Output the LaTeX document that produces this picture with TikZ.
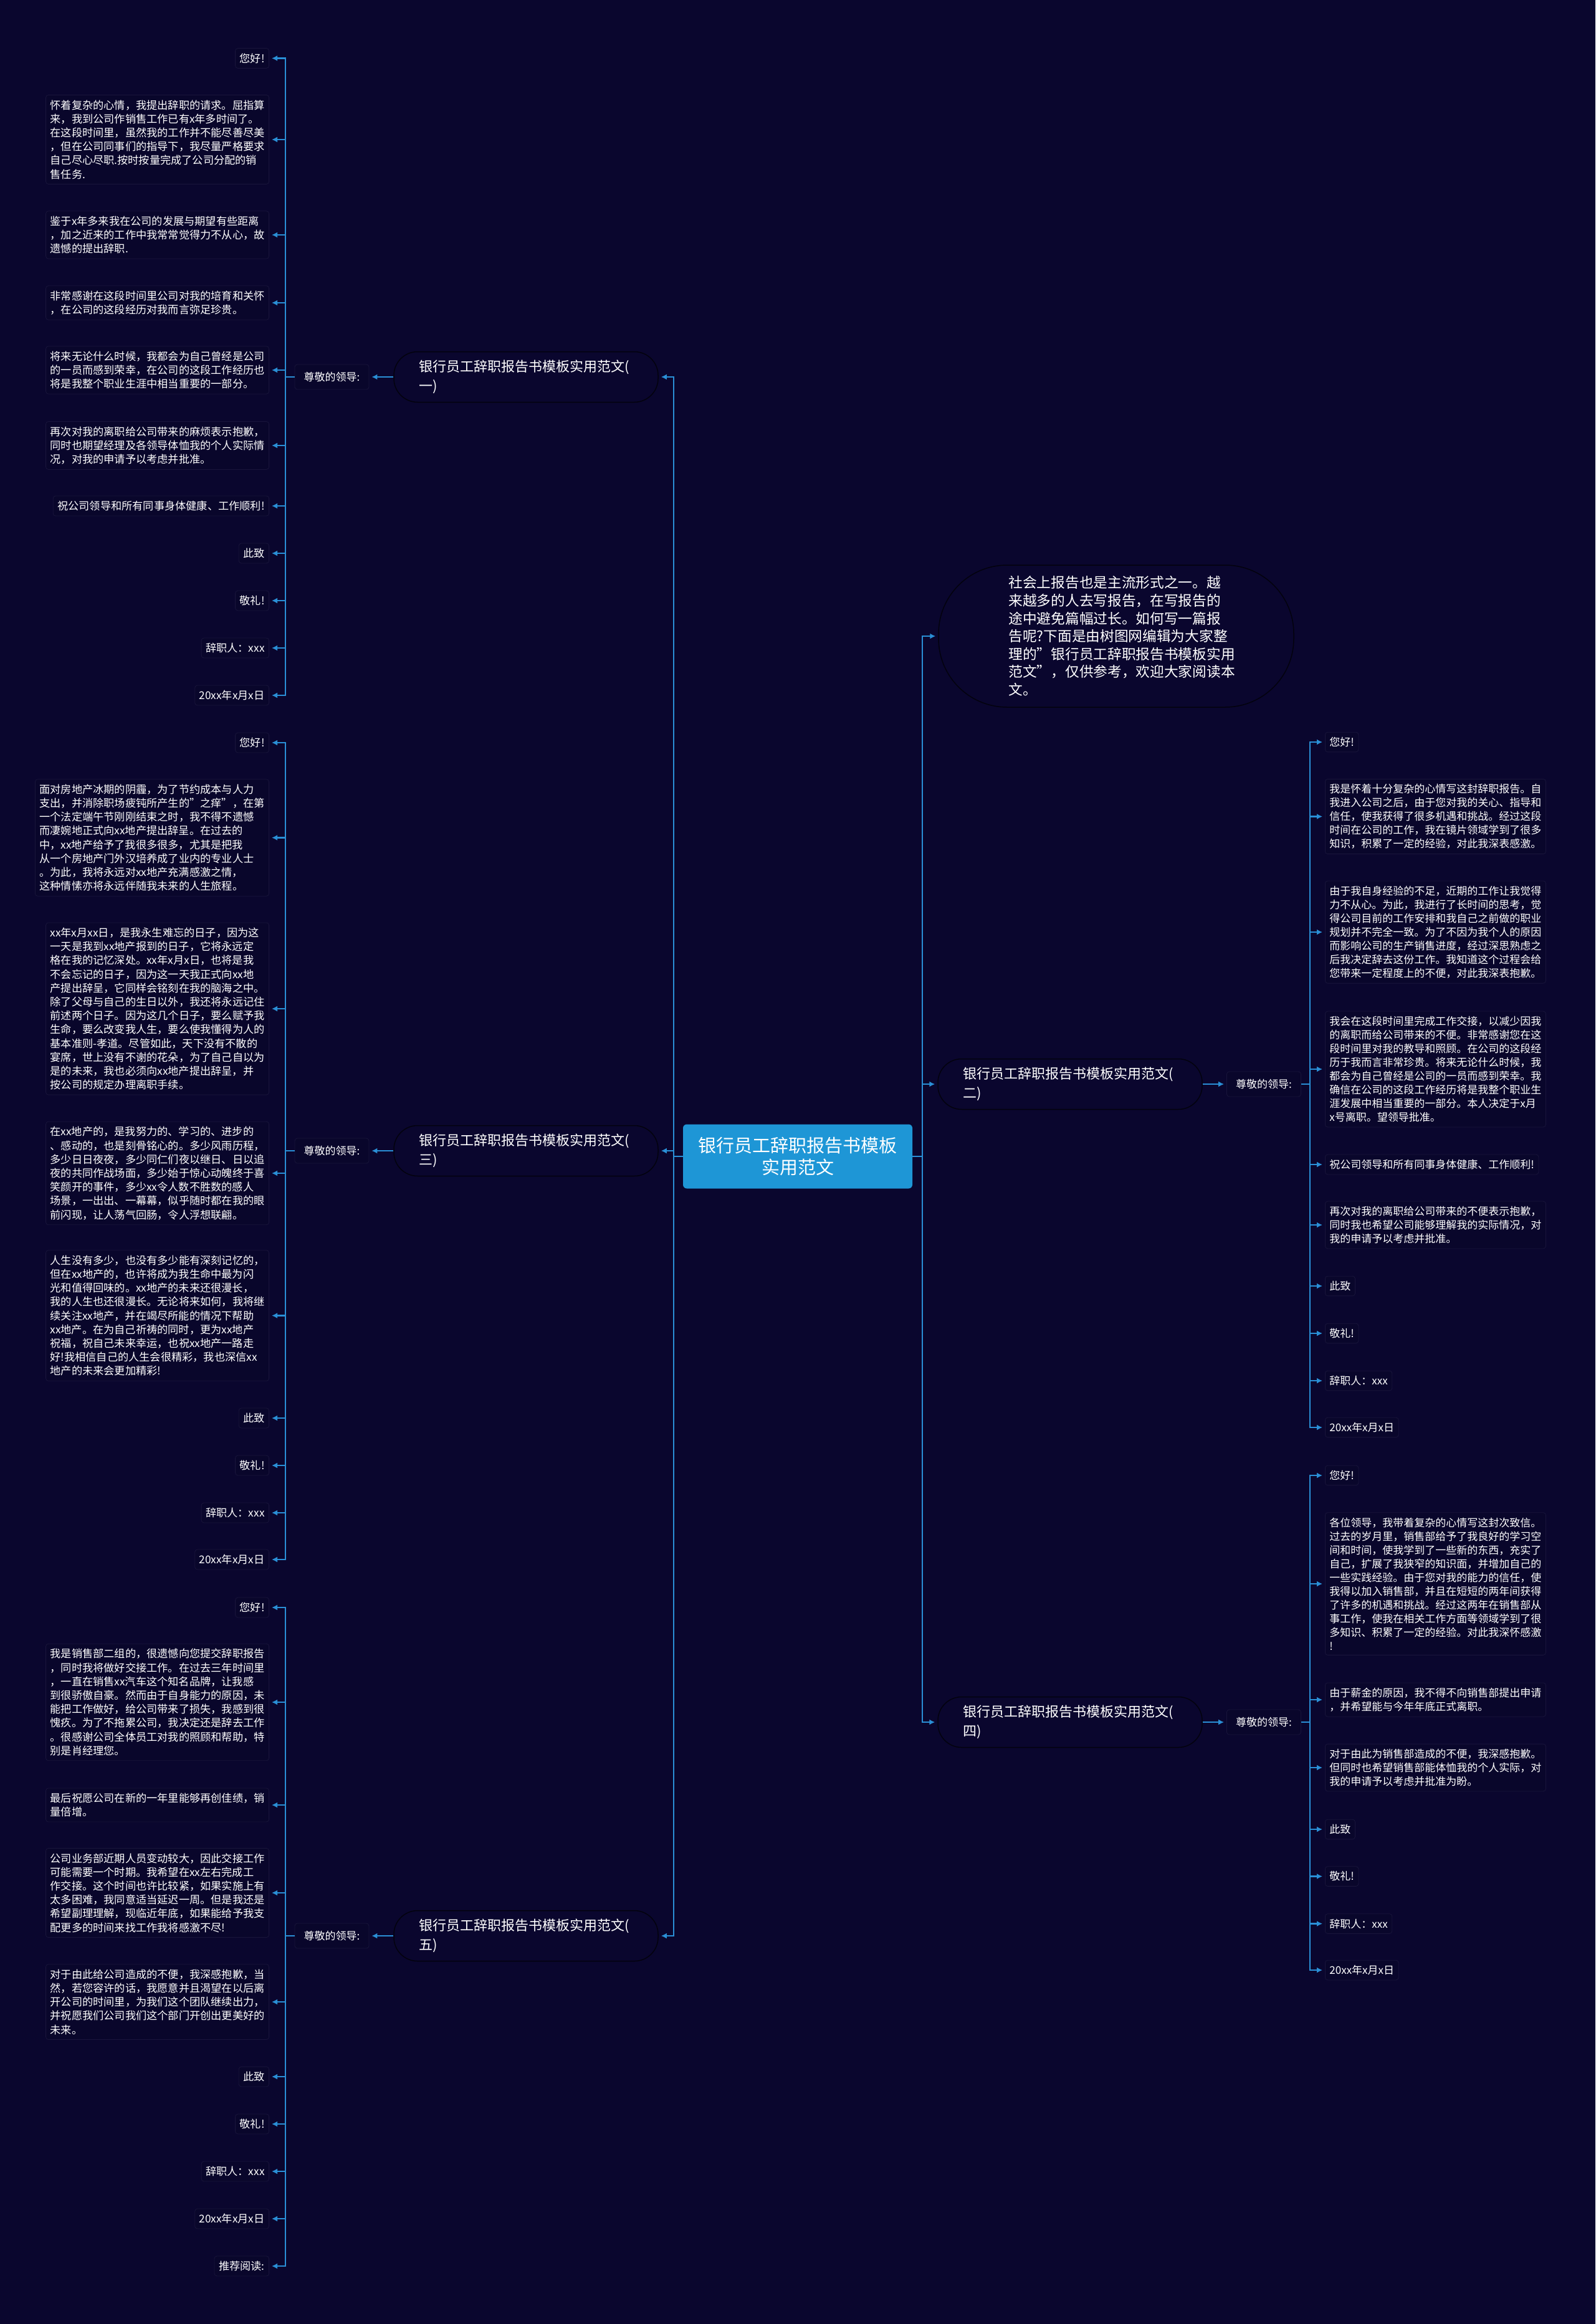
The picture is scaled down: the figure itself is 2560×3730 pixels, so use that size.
\documentclass[tikz,border=0pt]{standalone}
\usepackage{fontspec}
\setmainfont{Noto Sans CJK SC}
\usepackage{xcolor}
\definecolor{Bg}{RGB}{10,6,46}
\definecolor{ColLine}{RGB}{42,143,214}
\definecolor{ColMain}{RGB}{30,150,214}
\usepackage{tikz}
\usetikzlibrary{arrows.meta}
\tikzstyle{Edge}=[draw=ColLine,line width=2.2pt]
\tikzstyle{Arrow}=[Edge,-{Latex[length=9pt,width=9pt]},shorten >=4pt]
\tikzstyle{Leaf}=[draw=Bg!94!white,fill=Bg!94!black,line width=0.8pt,
rounded corners=4pt,text=white,align=left,inner xsep=7pt,inner ysep=8pt,
font=\fontsize{17.2}{22.2}\selectfont]
\tikzstyle{LeafL}=[Leaf,anchor=east]
\tikzstyle{LeafR}=[Leaf,anchor=west,font=\fontsize{17}{22}\selectfont]
\tikzstyle{Greet}=[draw=Bg!94!white,fill=Bg!94!black,line width=0.8pt,
rounded corners=4pt,text=white,minimum width=119pt,minimum height=40pt,
font=\fontsize{17}{20}\selectfont]
\tikzstyle{Branch}=[draw=black!70!Bg,fill=Bg,line width=1.5pt,
rounded corners=38pt,text=white,align=left,text width=344pt,
inner xsep=40pt,minimum height=81pt,font=\fontsize{22}{31}\selectfont]
\tikzstyle{Main}=[fill=ColMain,rounded corners=6pt,text=white,align=center,
minimum width=368pt,minimum height=103pt,font=\fontsize{29}{35}\selectfont]
\tikzstyle{Intro}=[draw=black!70!Bg,fill=Bg,line width=1.5pt,
rounded corners=110pt,text=white,align=left,text width=345pt,
minimum width=570pt,minimum height=228pt,font=\fontsize{22.7}{28.6}\selectfont]

\begin{document}
\begin{tikzpicture}[x=1pt,y=1pt]
        \fill[Bg](0,0)rectangle(2560,-3730);
        \useasboundingbox(0,0)rectangle(2560,-3730);
        % centre
        \node[Main](main)at(1280,-1856){银行员工辞职报告书模板\\实用范文};
        \coordinate(L)at(1081,-1856);
        \coordinate(R)at(1480,-1856);
        \node[Intro](intro)at(1791,-1021){社会上报告也是主流形式之一。越\\来越多的人去写报告，在写报告的\\途中避免篇幅过长。如何写一篇报\\告呢?下面是由树图网编辑为大家整\\理的"银行员工辞职报告书模板实用\\范文"，仅供参考，欢迎大家阅读本\\文。};
        \node[Branch](b1)at(844,-605){银行员工辞职报告书模板实用范文(\\一)};
        \node[Branch](b3)at(844,-1847){银行员工辞职报告书模板实用范文(\\三)};
        \node[Branch](b5)at(844,-3107){银行员工辞职报告书模板实用范文(\\五)};
        \node[Branch](b2)at(1717,-1740){银行员工辞职报告书模板实用范文(\\二)};
        \node[Branch](b4)at(1717,-2764){银行员工辞职报告书模板实用范文(\\四)};
        \node[Greet](g1)at(532.5,-605){尊敬的领导:};
        \node[Greet](g3)at(532.5,-1847){尊敬的领导:};
        \node[Greet](g5)at(532.5,-3107){尊敬的领导:};
        \node[Greet](g2)at(2028,-1740){尊敬的领导:};
        \node[Greet](g4)at(2028,-2764){尊敬的领导:};
        \coordinate(j1)at(458,-605);
        \coordinate(j3)at(458,-1847);
        \coordinate(j5)at(458,-3107);
        \coordinate(j2)at(2102,-1740);
        \coordinate(j4)at(2102,-2764);
        % (一)
        \node[LeafL](a1)at(432,-93.5){您好!};
        \node[LeafL](a2)at(432,-224){怀着复杂的心情，我提出辞职的请求。屈指算\\来，我到公司作销售工作已有x年多时间了。\\在这段时间里，虽然我的工作并不能尽善尽美\\，但在公司同事们的指导下，我尽量严格要求\\自己尽心尽职.按时按量完成了公司分配的销\\售任务.};
        \node[LeafL](a3)at(432,-377){鉴于x年多来我在公司的发展与期望有些距离\\，加之近来的工作中我常常觉得力不从心，故\\遗憾的提出辞职.};
        \node[LeafL](a4)at(432,-486){非常感谢在这段时间里公司对我的培育和关怀\\，在公司的这段经历对我而言弥足珍贵。};
        \node[LeafL](a5)at(432,-594){将来无论什么时候，我都会为自己曾经是公司\\的一员而感到荣幸，在公司的这段工作经历也\\将是我整个职业生涯中相当重要的一部分。};
        \node[LeafL](a6)at(432,-715){再次对我的离职给公司带来的麻烦表示抱歉，\\同时也期望经理及各领导体恤我的个人实际情\\况，对我的申请予以考虑并批准。};
        \node[LeafL](a7)at(432,-812){祝公司领导和所有同事身体健康、工作顺利!};
        \node[LeafL](a8)at(432,-888){此致};
        \node[LeafL](a9)at(432,-964){敬礼!};
        \node[LeafL](a10)at(432,-1040){辞职人：xxx};
        \node[LeafL](a11)at(432,-1116){20xx年x月x日};
        % (三)
        \node[LeafL](c1)at(432,-1192){您好!};
        \node[LeafL](c2)at(432,-1344.5){面对房地产冰期的阴霾，为了节约成本与人力\\支出，并消除职场疲钝所产生的"之痒"，在第\\一个法定端午节刚刚结束之时，我不得不遗憾\\而凄婉地正式向xx地产提出辞呈。在过去的\\中，xx地产给予了我很多很多，尤其是把我\\从一个房地产门外汉培养成了业内的专业人士\\。为此，我将永远对xx地产充满感激之情，\\这种情愫亦将永远伴随我未来的人生旅程。};
        \node[LeafL](c3)at(432,-1619){xx年x月xx日，是我永生难忘的日子，因为这\\一天是我到xx地产报到的日子，它将永远定\\格在我的记忆深处。xx年x月x日，也将是我\\不会忘记的日子，因为这一天我正式向xx地\\产提出辞呈，它同样会铭刻在我的脑海之中。\\除了父母与自己的生日以外，我还将永远记住\\前述两个日子。因为这几个日子，要么赋予我\\生命，要么改变我人生，要么使我懂得为人的\\基本准则-孝道。尽管如此，天下没有不散的\\宴席，世上没有不谢的花朵，为了自己自以为\\是的未来，我也必须向xx地产提出辞呈，并\\按公司的规定办理离职手续。};
        \node[LeafL](c4)at(432,-1883){在xx地产的，是我努力的、学习的、进步的\\、感动的，也是刻骨铭心的。多少风雨历程，\\多少日日夜夜，多少同仁们夜以继日、日以追\\夜的共同作战场面，多少始于惊心动魄终于喜\\笑颜开的事件，多少xx令人数不胜数的感人\\场景，一出出、一幕幕，似乎随时都在我的眼\\前闪现，让人荡气回肠，令人浮想联翩。};
        \node[LeafL](c5)at(432,-2111.5){人生没有多少，也没有多少能有深刻记忆的，\\但在xx地产的，也许将成为我生命中最为闪\\光和值得回味的。xx地产的未来还很漫长，\\我的人生也还很漫长。无论将来如何，我将继\\续关注xx地产，并在竭尽所能的情况下帮助\\xx地产。在为自己祈祷的同时，更为xx地产\\祝福，祝自己未来幸运，也祝xx地产一路走\\好!我相信自己的人生会很精彩，我也深信xx\\地产的未来会更加精彩!};
        \node[LeafL](c6)at(432,-2276){此致};
        \node[LeafL](c7)at(432,-2352){敬礼!};
        \node[LeafL](c8)at(432,-2428){辞职人：xxx};
        \node[LeafL](c9)at(432,-2503){20xx年x月x日};
        % (五)
        \node[LeafL](e1)at(432,-2580){您好!};
        \node[LeafL](e2)at(432,-2732){我是销售部二组的，很遗憾向您提交辞职报告\\，同时我将做好交接工作。在过去三年时间里\\，一直在销售xx汽车这个知名品牌，让我感\\到很骄傲自豪。然而由于自身能力的原因，未\\能把工作做好，给公司带来了损失，我感到很\\愧疚。为了不拖累公司，我决定还是辞去工作\\。很感谢公司全体员工对我的照顾和帮助，特\\别是肖经理您。};
        \node[LeafL](e3)at(432,-2897){最后祝愿公司在新的一年里能够再创佳绩，销\\量倍增。};
        \node[LeafL](e4)at(432,-3038){公司业务部近期人员变动较大，因此交接工作\\可能需要一个时期。我希望在xx左右完成工\\作交接。这个时间也许比较紧，如果实施上有\\太多困难，我同意适当延迟一周。但是我还是\\希望副理理解，现临近年底，如果能给予我支\\配更多的时间来找工作我将感激不尽!};
        \node[LeafL](e5)at(432,-3213){对于由此给公司造成的不便，我深感抱歉，当\\然，若您容许的话，我愿意并且渴望在以后离\\开公司的时间里，为我们这个团队继续出力，\\并祝愿我们公司我们这个部门开创出更美好的\\未来。};
        \node[LeafL](e6)at(432,-3333){此致};
        \node[LeafL](e7)at(432,-3409){敬礼!};
        \node[LeafL](e8)at(432,-3485){辞职人：xxx};
        \node[LeafL](e9)at(432,-3561){20xx年x月x日};
        \node[LeafL](e10)at(432,-3637){推荐阅读:};
        % (二)
        \node[LeafR](d1)at(2126,-1191){您好!};
        \node[LeafR](d2)at(2126,-1310.5){我是怀着十分复杂的心情写这封辞职报告。自\\我进入公司之后，由于您对我的关心、指导和\\信任，使我获得了很多机遇和挑战。经过这段\\时间在公司的工作，我在镜片领域学到了很多\\知识，积累了一定的经验，对此我深表感激。};
        \node[LeafR](d3)at(2126,-1496){由于我自身经验的不足，近期的工作让我觉得\\力不从心。为此，我进行了长时间的思考，觉\\得公司目前的工作安排和我自己之前做的职业\\规划并不完全一致。为了不因为我个人的原因\\而影响公司的生产销售进度，经过深思熟虑之\\后我决定辞去这份工作。我知道这个过程会给\\您带来一定程度上的不便，对此我深表抱歉。};
        \node[LeafR](d4)at(2126,-1716){我会在这段时间里完成工作交接，以减少因我\\的离职而给公司带来的不便。非常感谢您在这\\段时间里对我的教导和照顾。在公司的这段经\\历于我而言非常珍贵。将来无论什么时候，我\\都会为自己曾经是公司的一员而感到荣幸。我\\确信在公司的这段工作经历将是我整个职业生\\涯发展中相当重要的一部分。本人决定于x月\\x号离职。望领导批准。};
        \node[LeafR](d5)at(2126,-1869){祝公司领导和所有同事身体健康、工作顺利!};
        \node[LeafR](d6)at(2126,-1966){再次对我的离职给公司带来的不便表示抱歉，\\同时我也希望公司能够理解我的实际情况，对\\我的申请予以考虑并批准。};
        \node[LeafR](d7)at(2126,-2064){此致};
        \node[LeafR](d8)at(2126,-2140){敬礼!};
        \node[LeafR](d9)at(2126,-2216){辞职人：xxx};
        \node[LeafR](d10)at(2126,-2291){20xx年x月x日};
        % (四)
        \node[LeafR](f1)at(2126,-2368){您好!};
        \node[LeafR](f2)at(2126,-2542){各位领导，我带着复杂的心情写这封次致信。\\过去的岁月里，销售部给予了我良好的学习空\\间和时间，使我学到了一些新的东西，充实了\\自己，扩展了我狭窄的知识面，并增加自己的\\一些实践经验。由于您对我的能力的信任，使\\我得以加入销售部，并且在短短的两年间获得\\了许多的机遇和挑战。经过这两年在销售部从\\事工作，使我在相关工作方面等领域学到了很\\多知识、积累了一定的经验。对此我深怀感激\\!};
        \node[LeafR](f3)at(2126,-2728){由于薪金的原因，我不得不向销售部提出申请\\，并希望能与今年年底正式离职。};
        \node[LeafR](f4)at(2126,-2837){对于由此为销售部造成的不便，我深感抱歉。\\但同时也希望销售部能体恤我的个人实际，对\\我的申请予以考虑并批准为盼。};
        \node[LeafR](f5)at(2126,-2936){此致};
        \node[LeafR](f6)at(2126,-3011.5){敬礼!};
        \node[LeafR](f7)at(2126,-3087.5){辞职人：xxx};
        \node[LeafR](f8)at(2126,-3162){20xx年x月x日};
        % trunks
        \draw[Edge](main.west)--(L);
        \draw[Edge](main.east)--(R);
        \draw[Arrow](L)|-(b1.east);
        \draw[Arrow](L)|-(b3.east);
        \draw[Arrow](L)|-(b5.east);
        \draw[Arrow](R)|-(intro.west);
        \draw[Arrow](R)|-(b2.west);
        \draw[Arrow](R)|-(b4.west);
        \draw[Arrow](b1.west)--(g1.east);
        \draw[Arrow](b3.west)--(g3.east);
        \draw[Arrow](b5.west)--(g5.east);
        \draw[Arrow](b2.east)--(g2.west);
        \draw[Arrow](b4.east)--(g4.west);
        \draw[Edge](g1.west)--(j1);
        \draw[Edge](g3.west)--(j3);
        \draw[Edge](g5.west)--(j5);
        \draw[Edge](g2.east)--(j2);
        \draw[Edge](g4.east)--(j4);
        % leaves
        \draw[Arrow](j1)|-(a1.east);
        \draw[Arrow](j1)|-(a2.east);
        \draw[Arrow](j1)|-(a3.east);
        \draw[Arrow](j1)|-(a4.east);
        \draw[Arrow](j1)|-(a5.east);
        \draw[Arrow](j1)|-(a6.east);
        \draw[Arrow](j1)|-(a7.east);
        \draw[Arrow](j1)|-(a8.east);
        \draw[Arrow](j1)|-(a9.east);
        \draw[Arrow](j1)|-(a10.east);
        \draw[Arrow](j1)|-(a11.east);
        \draw[Arrow](j3)|-(c1.east);
        \draw[Arrow](j3)|-(c2.east);
        \draw[Arrow](j3)|-(c3.east);
        \draw[Arrow](j3)|-(c4.east);
        \draw[Arrow](j3)|-(c5.east);
        \draw[Arrow](j3)|-(c6.east);
        \draw[Arrow](j3)|-(c7.east);
        \draw[Arrow](j3)|-(c8.east);
        \draw[Arrow](j3)|-(c9.east);
        \draw[Arrow](j5)|-(e1.east);
        \draw[Arrow](j5)|-(e2.east);
        \draw[Arrow](j5)|-(e3.east);
        \draw[Arrow](j5)|-(e4.east);
        \draw[Arrow](j5)|-(e5.east);
        \draw[Arrow](j5)|-(e6.east);
        \draw[Arrow](j5)|-(e7.east);
        \draw[Arrow](j5)|-(e8.east);
        \draw[Arrow](j5)|-(e9.east);
        \draw[Arrow](j5)|-(e10.east);
        \draw[Arrow](j2)|-(d1.west);
        \draw[Arrow](j2)|-(d2.west);
        \draw[Arrow](j2)|-(d3.west);
        \draw[Arrow](j2)|-(d4.west);
        \draw[Arrow](j2)|-(d5.west);
        \draw[Arrow](j2)|-(d6.west);
        \draw[Arrow](j2)|-(d7.west);
        \draw[Arrow](j2)|-(d8.west);
        \draw[Arrow](j2)|-(d9.west);
        \draw[Arrow](j2)|-(d10.west);
        \draw[Arrow](j4)|-(f1.west);
        \draw[Arrow](j4)|-(f2.west);
        \draw[Arrow](j4)|-(f3.west);
        \draw[Arrow](j4)|-(f4.west);
        \draw[Arrow](j4)|-(f5.west);
        \draw[Arrow](j4)|-(f6.west);
        \draw[Arrow](j4)|-(f7.west);
        \draw[Arrow](j4)|-(f8.west);
    \end{tikzpicture}
\end{document}
